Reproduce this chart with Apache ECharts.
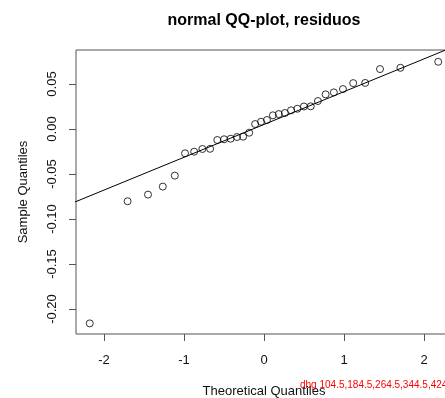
<!DOCTYPE html>
<html>
<head>
<meta charset="utf-8">
<script src="https://cdn.jsdelivr.net/npm/echarts@6/dist/echarts.min.js"></script>
<style>
html,body{margin:0;padding:0;background:#fff;}
#main{width:445px;height:398px;}
</style>
</head>
<body>
<div id="main"></div>
<script>
const theoretical = [-2.178,-1.705,-1.450,-1.265,-1.115,-0.987,-0.873,-0.770,-0.674,-0.584,-0.499,-0.417,-0.338,-0.261,-0.185,-0.111,-0.037,
  0.037,0.111,0.185,0.261,0.338,0.417,0.499,0.584,0.674,0.770,0.873,0.987,1.115,1.265,1.450,1.705,2.178];
const sample = [-0.216,-0.0803,-0.0729,-0.0640,-0.0518,-0.0270,-0.0252,-0.0222,-0.0220,-0.0122,-0.0114,-0.0108,-0.0089,-0.0085,-0.0041,
  0.0055,0.0081,0.0100,0.0152,0.0166,0.0178,0.0208,0.0225,0.0250,0.0252,0.0311,0.0385,0.0407,0.0444,0.0510,0.0512,0.0666,0.0680,0.0747];
const xTicks = [-2,-1,0,1,2];
const yTicks = [-0.20,-0.15,-0.10,-0.05,0.00,0.05];

const xMin = -2.35, xMax = 2.35, yMin = -0.2278, yMax = 0.0878;

function quantile(arr, p){
  const s = arr.slice().sort((a,b)=>a-b);
  const h = (s.length-1)*p;
  const lo = Math.floor(h);
  return s[lo] + (h-lo)*((s[lo+1]!==undefined?s[lo+1]:s[lo]) - s[lo]);
}
const zq = 0.6744898;
const q1 = quantile(sample,0.25), q3 = quantile(sample,0.75);
const slope = (q3-q1)/(2*zq);
const intercept = q1 + slope*zq;
const lineData = [[xMin-0.2, intercept+slope*(xMin-0.2)],[xMax+0.2, intercept+slope*(xMax+0.2)]];

const font = '"Liberation Sans", Arial, sans-serif';
const tickColor = '#555';
const tickLen = 7;
const chart = echarts.init(document.getElementById('main'), null, {renderer:'canvas'});
chart.setOption({
  animation:false,
  backgroundColor:'#fff',
  grid:{left:76, right:-7, top:50, bottom:64, show:true, borderColor:'#555', borderWidth:1, backgroundColor:'transparent', outerBoundsMode:'none', containLabel:false},
  xAxis:{type:'value', min:xMin, max:xMax, position:'bottom',
    name:'Theoretical Quantiles', nameLocation:'middle', nameGap:51,
    nameTextStyle:{fontFamily:font, fontSize:13, color:'#111'},
    splitLine:{show:false}, axisLine:{show:false, onZero:false},
    axisTick:{show:false},
    axisLabel:{fontFamily:font, fontSize:13, color:'#111', margin:20, customValues:xTicks, formatter:v=>String(v)}
  },
  yAxis:{type:'value', min:yMin, max:yMax, position:'left',
    name:'Sample Quantiles', nameLocation:'middle', nameGap:46, nameRotate:90,
    nameTextStyle:{fontFamily:font, fontSize:13, color:'#111'},
    splitLine:{show:false}, axisLine:{show:false, onZero:false},
    axisTick:{show:false},
    axisLabel:{fontFamily:font, fontSize:13, color:'#111', margin:17, rotate:90, customValues:yTicks, formatter:v=>v.toFixed(2)}
  },
  series:[
    {type:'line', data:lineData, showSymbol:false, lineStyle:{color:'#000', width:1}, silent:true, clip:true, z:1},
    {type:'scatter', data:theoretical.map((x,i)=>[x, sample[i]]), symbol:'circle', symbolSize:7,
      itemStyle:{color:'rgba(0,0,0,0)', borderColor:'#000', borderWidth:1}, z:2}
  ]
});

// outward axis ticks, positioned through the axis scales
const xAx = chart.getModel().getComponent('xAxis', 0).axis;
const yAx = chart.getModel().getComponent('yAxis', 0).axis;
const x0 = xAx.toGlobalCoord(xAx.dataToCoord(xMin));
const y0 = yAx.toGlobalCoord(yAx.dataToCoord(yMin));
const els = [{type:'text', x:264, y:21, style:{text:'normal QQ-plot, residuos', font:'bold 16px '+font, fill:'#000', align:'center', verticalAlign:'middle'}}];
let dbg = [];
xTicks.forEach(v=>{
  const x = Math.round(xAx.toGlobalCoord(xAx.dataToCoord(v))) + 0.5;
  const y = Math.round(y0);
  dbg.push(x);
  els.push({type:'line', silent:true, z:100, shape:{x1:x, y1:y, x2:x, y2:y+tickLen}, style:{stroke:tickColor, lineWidth:1}});
});
yTicks.forEach(v=>{
  const y = Math.round(yAx.toGlobalCoord(yAx.dataToCoord(v))) + 0.5;
  const x = Math.round(x0);
  els.push({type:'line', silent:true, z:100, shape:{x1:x, y1:y, x2:x-tickLen, y2:y}, style:{stroke:tickColor, lineWidth:1}});
});
els.push({type:'text', x:300, y:380, style:{text:'dbg '+dbg.join(',')+' y0='+y0, font:'10px sans-serif', fill:'red'}});
chart.setOption({graphic:els});
</script>
</body>
</html>
